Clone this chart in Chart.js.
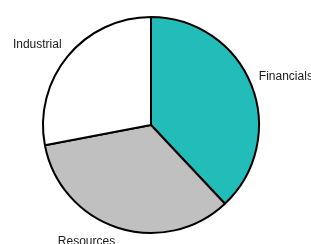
<!DOCTYPE html>
<html><head><meta charset="utf-8">
<script src="https://cdn.jsdelivr.net/npm/chart.js@4.4.0/dist/chart.umd.min.js"></script>
<style>html,body{margin:0;padding:0;background:#fff;}#wrap{width:311px;height:244px;}</style>
</head><body><div id="wrap"><canvas id="c" width="311" height="244"></canvas></div>
<script>
const categories = ["Financials", "Resources", "Industrial"];
const shares = [38, 34, 28];
const sliceColors = ["#22BDB8", "#C0C0C0", "#FFFFFF"];

const outsideLabels = {
  id: 'outsideLabels',
  afterDatasetsDraw(chart) {
    const ctx = chart.ctx;
    const meta = chart.getDatasetMeta(0);
    ctx.save();
    ctx.font = '12px "Liberation Sans", Arial, sans-serif';
    ctx.fillStyle = '#1a1a1a';
    meta.data.forEach((arc, i) => {
      const p = arc.getProps(['x','y','startAngle','endAngle','outerRadius'], true);
      const mid = (p.startAngle + p.endAngle) / 2;
      const r = p.outerRadius + 8;
      const x = p.x + Math.cos(mid) * r;
      const y = p.y + Math.sin(mid) * r;
      ctx.textAlign = Math.cos(mid) >= 0 ? 'left' : 'right';
      ctx.textBaseline = Math.sin(mid) >= 0 ? 'top' : 'bottom';
      ctx.fillText(chart.data.labels[i], x, y);
    });
    ctx.restore();
  }
};

new Chart(document.getElementById('c'), {
  type: 'pie',
  data: {
    labels: categories,
    datasets: [{
      data: shares,
      backgroundColor: sliceColors,
      borderColor: '#000000',
      borderWidth: 2,
      radius: 108
    }]
  },
  options: {
    responsive: false,
    animation: false,
    layout: { padding: { left: 0, right: 9, top: 6, bottom: 0 } },
    plugins: { legend: { display: false }, tooltip: { enabled: false } }
  },
  plugins: [outsideLabels]
});
</script>
</body></html>
